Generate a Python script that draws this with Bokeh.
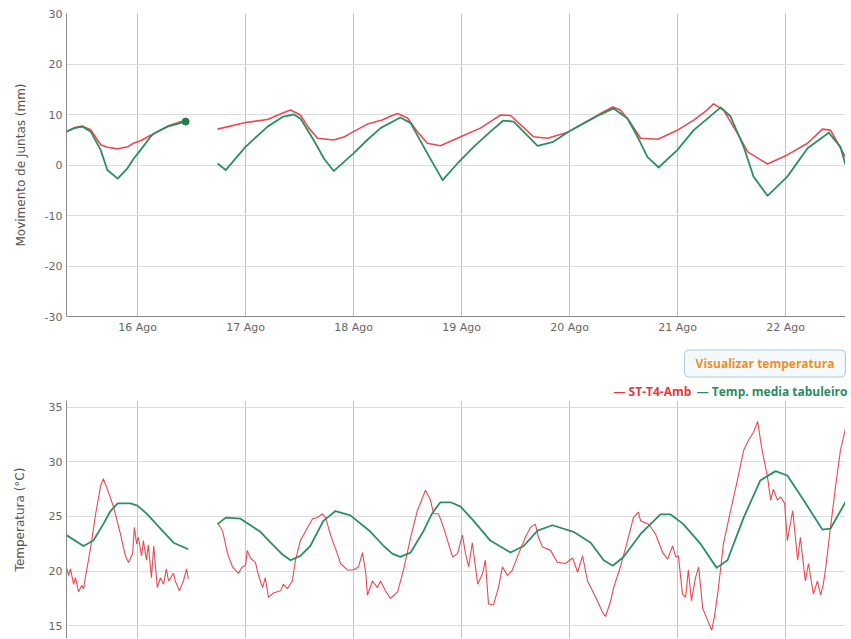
import pandas as pd
from bokeh.plotting import figure
from bokeh.models import (Range1d, FixedTicker, DatetimeTickFormatter, Label,
                          PrintfTickFormatter)
from bokeh.layouts import column
from bokeh.embed import file_html
from bokeh.resources import INLINE

# ---------------- data (hours since 2016-08-15 00:00) ----------------
base_date = "2016-08-15"
view_start_h = 8.22
view_end_h = 181.33
day_ticks = ["2016-08-16", "2016-08-17", "2016-08-18", "2016-08-19",
             "2016-08-20", "2016-08-21", "2016-08-22"]

# Movimento de Juntas (mm) - first block
mov_a_hours = [8.2, 10.0, 11.8, 13.6, 15.8, 17.3, 19.6, 21.8, 23.1, 24.7, 26.9, 27.6, 30.7, 32.7, 34.7]
mov_a_red = [6.6, 7.4, 7.7, 7.0, 4.0, 3.5, 3.2, 3.6, 4.3, 4.8, 5.9, 6.2, 7.7, 8.3, 8.9]
mov_a_green = [6.6, 7.3, 7.6, 6.6, 3.0, -1.0, -2.7, -0.6, 1.2, 3.0, 5.6, 6.2, 7.6, 8.1, 8.6]

# Movimento de Juntas (mm) - second block
mov_b_red_hours = [41.8, 48.0, 52.9, 56.0, 58.0, 60.2, 62.0, 64.0, 67.6, 70.0, 72.0, 75.1, 78.4,
                   80.3, 81.8, 84.0, 86.2, 88.4, 91.3, 95.8, 100.2, 102.6, 104.7, 106.9, 109.6,
                   112.0, 115.1, 119.6, 122.4, 126.9, 129.6, 131.3, 133.6, 135.8, 139.6, 144.0,
                   147.6, 150.2, 152.0, 154.2, 157.3, 159.6, 164.0, 168.4, 172.9, 176.2, 178.0, 181.3]
mov_b_red = [7.1, 8.4, 9.0, 10.2, 10.9, 9.9, 7.4, 5.3, 4.95, 5.6, 6.6, 8.1, 8.9,
             9.7, 10.2, 9.3, 6.6, 4.3, 3.8, 5.6, 7.3, 8.7, 9.9, 9.8, 7.6,
             5.6, 5.3, 6.5, 7.9, 10.2, 11.5, 10.9, 8.3, 5.3, 5.1, 6.9,
             8.9, 10.6, 12.1, 10.9, 6.3, 2.6, 0.2, 2.0, 4.3, 7.1, 6.9, 1.6]
mov_b_green_hours = [41.8, 43.6, 48.0, 52.9, 56.4, 58.7, 60.2, 63.1, 65.5, 67.6, 72.0,
                     75.1, 78.0, 82.4, 84.7, 88.4, 91.8, 95.1, 98.7, 102.4, 105.3,
                     107.6, 112.9, 116.4, 119.6, 122.4, 126.2, 129.8, 132.9, 135.1, 137.3,
                     139.8, 144.0, 147.6, 153.6, 155.8, 158.7, 160.9, 164.0, 168.4, 172.9,
                     177.6, 180.2, 181.3]
mov_b_green = [0.3, -1.0, 3.6, 7.6, 9.6, 10.0, 9.2, 5.0, 1.2, -1.2, 2.3,
               5.0, 7.3, 9.4, 8.3, 2.3, -3.0, 0.3, 3.6, 6.6, 8.8,
               8.6, 3.8, 4.6, 6.5, 7.9, 9.7, 11.2, 9.2, 5.6, 1.6,
               -0.5, 3.0, 6.9, 11.4, 9.6, 3.6, -2.3, -6.1, -2.3, 3.3,
               6.4, 3.6, 0.1]

# Temperatura (°C) - ST-T4-Amb
amb_a_hours = [8.2, 8.7, 9.1, 9.8, 10.2, 10.9, 11.6, 12.0, 12.4, 13.6,
               14.7, 15.8, 16.4, 17.3, 18.7, 20.2, 21.3, 22.0, 22.9, 23.3,
               23.8, 24.2, 24.9, 25.3, 26.0, 26.4, 27.1, 27.6, 28.4, 29.1,
               29.8, 30.4, 30.9, 32.0, 32.4, 33.3, 34.2, 34.9, 35.3]
amb_a = [20.4, 19.6, 20.2, 18.8, 19.4, 18.1, 18.7, 18.4, 19.4, 22.2,
         25.25, 27.8, 28.45, 27.5, 25.85, 23.4, 21.4, 20.8, 21.6, 24.0,
         22.5, 23.1, 21.4, 22.8, 21.0, 22.4, 19.4, 22.3, 18.5, 19.4,
         18.8, 20.2, 19.1, 19.8, 19.1, 18.2, 19.1, 20.2, 19.3]
amb_b_hours = [41.8, 42.9, 44.0, 45.1, 46.4, 47.3, 48.0, 48.4, 49.1, 50.2,
               50.9, 51.8, 52.4, 53.1, 54.2, 55.8, 56.4, 57.3, 58.4, 59.1,
               60.2, 61.8, 62.9, 64.0, 65.1, 65.8, 66.9, 68.4, 69.1, 70.7,
               72.0, 73.1, 74.0, 74.7, 75.1, 76.2, 77.3, 78.0, 79.1, 80.2,
               81.8, 83.1, 84.7, 86.2, 88.0, 89.1, 89.8, 90.9, 92.0, 92.9,
               94.0, 95.1, 96.2, 96.9, 97.6, 98.4, 99.6, 100.7, 101.3, 102.0,
               103.1, 104.2, 105.1, 106.2, 107.3, 108.7, 110.2, 111.3, 112.4, 113.1,
               114.0, 115.8, 117.3, 119.1, 120.7, 121.8, 122.9, 124.0, 125.1, 126.2,
               127.3, 128.0, 129.1, 129.8, 131.3, 132.9, 134.2, 135.3, 135.8, 137.6,
               139.1, 140.7, 141.8, 142.9, 143.6, 144.2, 145.1, 145.8, 146.4, 147.1,
               148.0, 148.7, 149.6, 150.7, 151.6, 152.2, 153.1, 154.2, 155.8, 157.3,
               158.7, 159.8, 160.9, 161.8, 162.7, 164.0, 164.7, 165.3, 166.2, 166.9,
               167.8, 168.4, 169.6, 170.7, 171.3, 172.4, 173.1, 174.2, 175.1, 175.8,
               176.4, 176.9, 178.0, 179.1, 180.2, 181.3]
amb_b = [24.4, 23.7, 21.6, 20.4, 19.8, 20.4, 20.5, 21.9, 21.2, 20.8,
         19.6, 18.5, 19.4, 17.6, 18.0, 18.2, 18.8, 18.4, 19.1, 21.0,
         22.8, 24.0, 24.8, 24.9, 25.25, 24.9, 23.3, 21.6, 20.7, 20.1,
         20.1, 20.4, 21.7, 19.9, 17.8, 19.1, 18.5, 19.1, 18.2, 17.5,
         18.1, 20.1, 23.1, 25.55, 27.4, 26.5, 25.25, 25.25, 24.0, 22.8,
         21.3, 21.6, 23.3, 21.6, 20.4, 22.6, 18.8, 19.8, 21.0, 17.0,
         16.9, 18.5, 20.4, 19.6, 20.1, 21.6, 23.1, 24.0, 24.3, 23.1,
         22.2, 21.9, 20.8, 20.7, 21.2, 19.9, 21.4, 19.1, 18.2, 17.3,
         16.25, 15.85, 17.2, 18.5, 20.4, 22.8, 24.9, 25.4, 24.6, 24.3,
         23.4, 21.7, 21.1, 22.3, 21.3, 21.4, 17.9, 17.6, 20.1, 17.3,
         19.4, 20.4, 16.6, 15.5, 14.6, 15.8, 18.5, 22.5, 25.55, 28.3,
         31.05, 32.0, 32.7, 33.7, 31.3, 28.6, 26.5, 27.5, 26.5, 26.8,
         26.2, 22.8, 25.55, 21.0, 23.1, 19.1, 20.7, 17.9, 19.1, 17.8,
         18.8, 20.2, 24.0, 27.7, 31.05, 33.0]

# Temperatura (°C) - Temp. media tabuleiro
tab_a_hours = [8.2, 12.0, 14.2, 16.4, 18.0, 19.6, 22.4, 24.0, 26.2, 29.1, 32.0, 35.3]
tab_a = [23.3, 22.3, 22.8, 24.3, 25.5, 26.2, 26.2, 26.0, 25.2, 23.9, 22.6, 22.0]
tab_b_hours = [41.8, 43.6, 46.9, 51.3, 53.6, 56.0, 58.0, 60.2, 62.4, 65.3, 68.0,
               71.3, 75.8, 78.7, 80.6, 82.4, 84.7, 87.6, 89.5, 91.3, 93.6, 95.8, 98.7,
               102.4, 106.9, 109.8, 112.9, 116.2, 120.9, 124.7, 127.6, 129.6, 132.0,
               135.8, 140.2, 142.4, 145.3, 149.1, 152.7, 155.1, 158.7, 162.4, 165.8,
               168.4, 172.0, 176.2, 178.0, 181.3]
tab_b = [24.3, 24.9, 24.8, 23.6, 22.6, 21.6, 21.0, 21.4, 22.3, 24.6, 25.5,
         25.1, 23.6, 22.3, 21.6, 21.3, 21.7, 23.7, 25.3, 26.3, 26.3, 25.9, 24.6,
         22.8, 21.7, 22.3, 23.7, 24.2, 23.6, 22.6, 21.0, 20.5, 21.3,
         23.4, 25.2, 25.2, 24.3, 22.5, 20.3, 21.0, 24.9, 28.3, 29.15,
         28.75, 26.5, 23.8, 23.9, 26.3]

mov_ticks = [-30, -20, -10, 0, 10, 20, 30]
temp_ticks = [15, 20, 25, 30, 35]

# ---------------- helpers ----------------
BASE = pd.Timestamp(base_date)


def to_ms(hours):
    return [(BASE + pd.Timedelta(hours=h)).value / 1e6 for h in hours]


tick_ms = [pd.Timestamp(d).value / 1e6 for d in day_ticks]
xr = Range1d(to_ms([view_start_h])[0], to_ms([view_end_h])[0])

RED = "#ec4850"
GREEN = "#2c8f62"
FONT = "DejaVu Sans"
fmt_all = "%d Ago"


def style(p, ticks, ylabel, title_standoff):
    p.outline_line_color = None
    p.background_fill_color = "white"
    p.border_fill_color = "white"
    p.xgrid.ticker = FixedTicker(ticks=tick_ms)
    p.xgrid.grid_line_color = "#c4c4c4"
    p.ygrid.grid_line_color = "#dcdcdc"
    p.yaxis.ticker = FixedTicker(ticks=ticks)
    p.yaxis.formatter = PrintfTickFormatter(format="%d")
    p.yaxis.axis_label = ylabel
    p.yaxis.axis_label_text_font = FONT
    p.yaxis.axis_label_text_font_size = "12px"
    p.yaxis.axis_label_text_font_style = "normal"
    p.yaxis.axis_label_text_color = "#555555"
    p.yaxis.axis_label_standoff = title_standoff
    for ax in (p.xaxis, p.yaxis):
        ax.major_label_text_font = FONT
        ax.major_label_text_font_size = "11px"
        ax.major_label_text_color = "#666666"
        ax.major_tick_in = 0
        ax.major_tick_out = 0
        ax.minor_tick_in = 0
        ax.minor_tick_out = 0
        ax.axis_line_color = "#888888"
        ax.major_label_standoff = 4
    p.xaxis.ticker = FixedTicker(ticks=tick_ms)
    p.xaxis.formatter = DatetimeTickFormatter(
        microseconds=fmt_all, milliseconds=fmt_all, seconds=fmt_all,
        minsec=fmt_all, minutes=fmt_all, hourmin=fmt_all, hours=fmt_all,
        days=fmt_all, months=fmt_all, years=fmt_all)


# ---------------- top chart ----------------
p1 = figure(frame_width=779, frame_height=303, x_axis_type="datetime",
            x_range=xr, y_range=Range1d(-30, 30),
            output_backend="svg", toolbar_location=None,
            min_border_left=66, min_border_right=0, min_border_top=13,
            min_border_bottom=27)
style(p1, mov_ticks, "Movimento de Juntas (mm)", 14)

p1.line(to_ms(mov_a_hours), mov_a_red, color=RED, line_width=1.6, line_join="round")
p1.line(to_ms(mov_a_hours), mov_a_green, color=GREEN, line_width=1.8, line_join="round")
p1.line(to_ms(mov_b_red_hours), mov_b_red, color=RED, line_width=1.6, line_join="round")
p1.line(to_ms(mov_b_green_hours), mov_b_green, color=GREEN, line_width=1.8, line_join="round")
p1.scatter(to_ms(mov_a_hours[-1:]), mov_a_green[-1:], size=7, color="#1f8048")

# ---------------- header band (button + legend) ----------------
# the band's frame is aligned with the charts' frames (left edge 66 px)
ph = figure(width=851, height=57, x_range=Range1d(0, 1), y_range=Range1d(0, 1),
            x_axis_location=None, y_axis_location=None,
            output_backend="svg", toolbar_location=None,
            min_border_left=0, min_border_right=0, min_border_top=0,
            min_border_bottom=0)
ph.grid.visible = False
ph.outline_line_color = None
ph.border_fill_color = "white"

button = Label(x=698.5, y=37, x_units="screen", y_units="screen",
               text="Visualizar temperatura", text_align="center",
               text_baseline="middle", text_font="Open Sans",
               text_font_style="bold", text_font_size="12px",
               text_color="#e8902a", background_fill_color="#f6f9fc",
               border_line_color="#a8c8e2", border_line_width=1,
               padding=dict(left=11, right=11, top=5, bottom=5),
               border_radius=4)
ph.add_layout(button)

leg_red = Label(x=547, y=9, x_units="screen", y_units="screen",
                text="— ST-T4-Amb", text_align="left", text_baseline="middle",
                text_font="Open Sans", text_font_style="bold",
                text_font_size="12px", text_color="#e5383e")
leg_green = Label(x=781, y=9, x_units="screen", y_units="screen",
                  text="— Temp. media tabuleiro", text_align="right",
                  text_baseline="middle", text_font="Open Sans",
                  text_font_style="bold", text_font_size="12px",
                  text_color="#2b8a64")
ph.add_layout(leg_red)
ph.add_layout(leg_green)

# ---------------- bottom chart ----------------
p2 = figure(frame_width=779, frame_height=238, x_axis_type="datetime",
            x_range=xr, y_range=Range1d(13.84, 35.61),
            output_backend="svg", toolbar_location=None,
            min_border_left=66, min_border_right=0, min_border_top=0,
            min_border_bottom=0)
style(p2, temp_ticks, "Temperatura (°C)", 19)
p2.xaxis.visible = False

p2.line(to_ms(amb_a_hours), amb_a, color=RED, line_width=1.1)
p2.line(to_ms(amb_b_hours), amb_b, color=RED, line_width=1.1)
p2.line(to_ms(tab_a_hours), tab_a, color=GREEN, line_width=1.8, line_join="round")
p2.line(to_ms(tab_b_hours), tab_b, color=GREEN, line_width=1.8, line_join="round")

layout = column(p1, ph, p2, spacing=0)
open("out.html", "w").write(file_html(layout, INLINE))
